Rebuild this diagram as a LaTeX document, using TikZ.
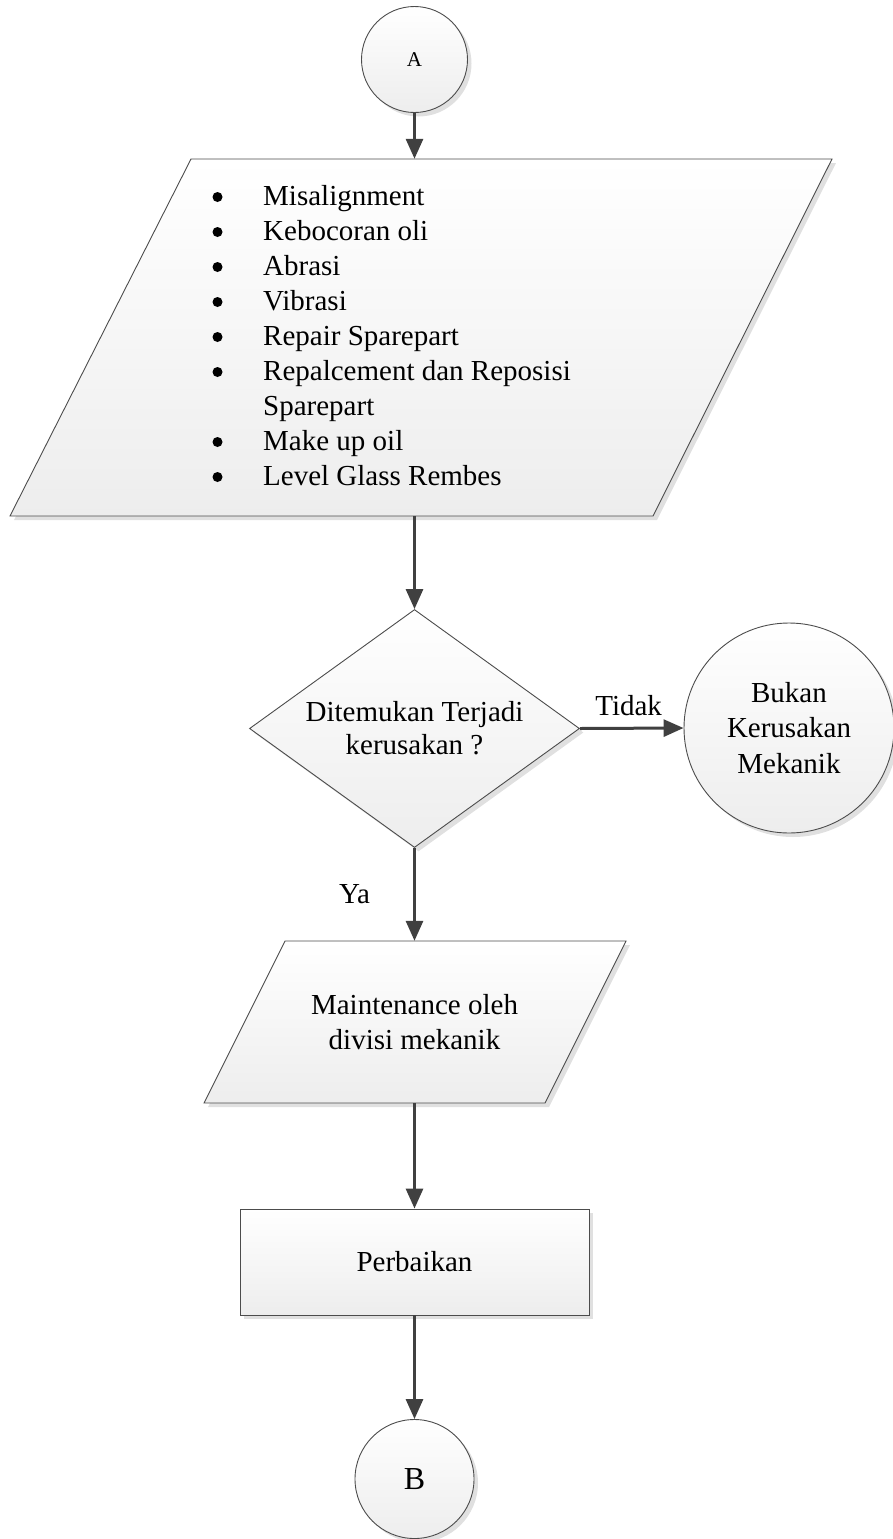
\documentclass[tikz,border=0pt]{standalone}
\usepackage{fontspec}
\setmainfont{Liberation Serif}
\usetikzlibrary{shapes.geometric,arrows.meta,shadows}
\begin{document}
\begin{tikzpicture}[x=1pt,y=-1pt,
  shp/.style={draw=black!70, line width=0.9pt, top color=white, bottom color=black!7,
    drop shadow={shadow xshift=4pt, shadow yshift=-4pt, fill=black!12, opacity=1}},
  txt/.style={font=\fontsize{29}{35}\selectfont, align=center, inner sep=0pt},
  arr/.style={draw=black!75, line width=3pt, -{Triangle[length=20pt,width=17pt]}},
  lbl/.style={font=\fontsize{29}{35}\selectfont, inner sep=0pt},
  bul/.style={fill=black},
]
\useasboundingbox (0,0) rectangle (893,1539);

% start connector
\node[shp, circle, minimum size=106pt, inner sep=0pt, font=\fontsize{21}{24}\selectfont] (A) at (414.5,59.5) {A};

% input parallelogram with list
\path[shp] (191,159) -- (832,159) -- (653,516) -- (10,516) -- cycle;
\node[minimum width=440pt, minimum height=357pt, inner sep=0pt] (P1) at (414.5,337.5) {};
\node[lbl, anchor=north west] (L) at (209,180.3) {%
  \begin{tabular}{@{}p{54pt}@{}l@{}}
  & Misalignment\\
  & Kebocoran oli\\
  & Abrasi\\
  & Vibrasi\\
  & Repair Sparepart\\
  & Repalcement dan Reposisi\\
  & Sparepart\\
  & Make up oil\\
  & Level Glass Rembes
  \end{tabular}};
\foreach \k in {0,1,2,3,4,5,7,8}
  \fill[bul] (217.5,{197+35*\k}) circle (5pt);

% decision
\node[shp, diamond, aspect=1.387, minimum width=330pt, minimum height=238pt, txt,
  font=\fontsize{29}{33}\selectfont] (D) at (414.5,728.5) {Ditemukan Terjadi\\kerusakan ?};

% off-page result
\node[shp, circle, minimum size=210pt, txt, font=\fontsize{29}{35.5}\selectfont] (N) at (789,728) {Bukan\\Kerusakan\\Mekanik};

% second parallelogram
\path[shp] (285,941) -- (626,941) -- (545,1103) -- (204,1103) -- cycle;
\node[txt, minimum width=300pt, minimum height=162pt] (P2) at (414.5,1022) {Maintenance oleh\\divisi mekanik};

% process
\node[shp, rectangle, minimum width=349pt, minimum height=106pt, txt] (R) at (414.5,1262) {Perbaikan};

% end connector
\node[shp, circle, minimum size=119pt, inner sep=0pt, font=\fontsize{32}{36}\selectfont] (B) at (414.5,1479) {B};

% connectors
\draw[arr] (A.south) -- (P1.north);
\draw[arr] (P1.south) -- (D.north);
\draw[arr] (D.east) -- node[lbl, pos=0.47, anchor=base, yshift=13pt] (T) {Tidak} (N.west);
\draw[arr] (D.south) -- node[lbl, pos=0.596, anchor=base east, xshift=-43pt] (Y) {Ya} (P2.north);
\draw[arr] (P2.south) -- (R.north);
\draw[arr] (R.south) -- (B.north);
\end{tikzpicture}
\end{document}
